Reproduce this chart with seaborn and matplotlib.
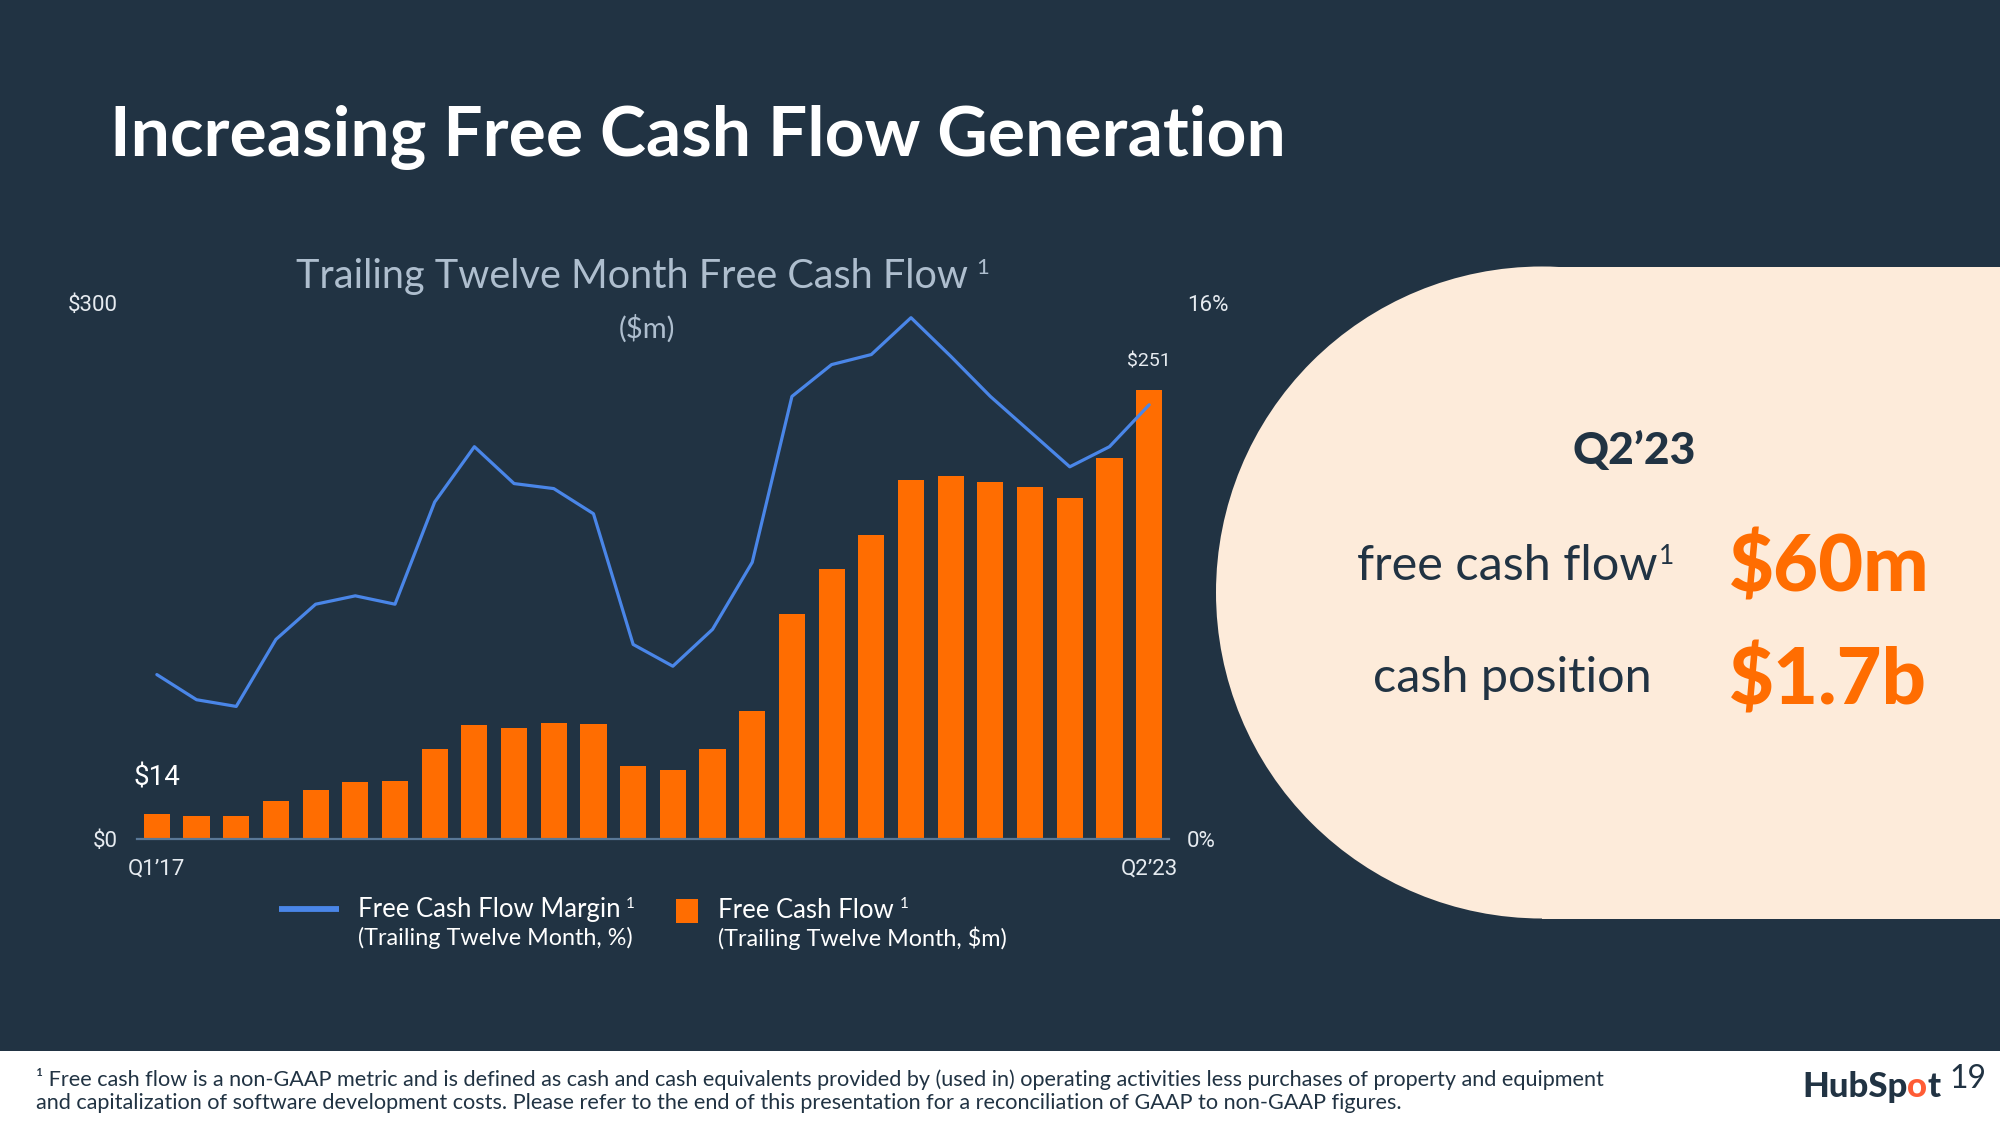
import matplotlib
matplotlib.use("Agg")
import matplotlib.pyplot as plt
import seaborn as sns
import pandas as pd
from matplotlib.patches import Rectangle, Circle

# ---------------- data ----------------
quarters = ["Q1’17", "Q2’17", "Q3’17", "Q4’17",
            "Q1’18", "Q2’18", "Q3’18", "Q4’18",
            "Q1’19", "Q2’19", "Q3’19", "Q4’19",
            "Q1’20", "Q2’20", "Q3’20", "Q4’20",
            "Q1’21", "Q2’21", "Q3’21", "Q4’21",
            "Q1’22", "Q2’22", "Q3’22", "Q4’22",
            "Q1’23", "Q2’23"]
fcf = [14, 12.5, 12.5, 21, 27.5, 31.5, 32.5, 50.5, 63.5, 62, 65, 64.5,
       41, 38.5, 50.5, 71.5, 126, 151, 170, 201, 203, 199.5, 197, 190.5, 213, 251]
margin = [4.9, 4.15, 3.95, 5.95, 7.0, 7.25, 7.0, 10.05, 11.7, 10.6, 10.45, 9.7,
          5.8, 5.15, 6.25, 8.25, 13.2, 14.15, 14.45, 15.55, 14.4, 13.2, 12.15, 11.1, 11.7, 12.95]
y_ticks = [0, 300]
y_tick_labels = ["$0", "$300"]
pct_ticks = [0, 16]
pct_tick_labels = ["0%", "16%"]
bar_callouts = {0: "$14", 25: "$251"}

title = "Increasing Free Cash Flow Generation"
chart_title = "Trailing Twelve Month Free Cash Flow"
chart_unit = "($m)"
legend_line = ("Free Cash Flow Margin", "(Trailing Twelve Month, %)")
legend_bar = ("Free Cash Flow", "(Trailing Twelve Month, $m)")
panel_period = "Q2’23"
panel_rows = [("free cash flow", "$60m", True), ("cash position", "$1.7b", False)]
footnote = ["¹ Free cash flow is a non-GAAP metric and is defined as cash and cash equivalents provided by (used in) operating activities less purchases of property and equipment",
            "and capitalization of software development costs. Please refer to the end of this presentation for a reconciliation of GAAP to non-GAAP figures."]
page_no = "19"

# ---------------- style ----------------
NAVY = "#213343"
ORANGE = "#FF6D01"
BLUE = "#4A86E8"
CREAM = "#FDEBDA"
SLATE = "#5A7896"
SUBTLE = "#AEBECE"
LABEL = "#E6EBF0"

sns.set_theme(style="white")
plt.rcParams["font.family"] = ["Lato", "DejaVu Sans"]

W, H = 2000, 1125
fig = plt.figure(figsize=(W / 100, H / 100), dpi=100, facecolor=NAVY)

bg = fig.add_axes([0, 0, 1, 1], zorder=0)
bg.set_xlim(0, W)
bg.set_ylim(H, 0)
bg.axis("off")
bg.set_facecolor(NAVY)

# right panel (stadium shape)
cx, cy, r = 1542, 592.5, 326
bg.add_patch(Circle((cx, cy), r, color=CREAM, lw=0))
bg.add_patch(Rectangle((cx, cy - r), W - cx + 10, 2 * r, color=CREAM, lw=0))
# footer strip
bg.add_patch(Rectangle((0, 1051), W, H - 1051, color="white", lw=0))

# title
bg.text(110, 156, title, fontsize=50, fontweight="bold", color="white", va="baseline", ha="left")


def sup_after(t, s, size, color, dx=3, weight="normal"):
    return bg.annotate(s, xy=(1, 1), xycoords=t, xytext=(dx, 0), textcoords="offset points",
                       fontsize=size, color=color, va="top", ha="left", fontweight=weight)


ct = bg.text(296, 288, chart_title, fontsize=28.5, fontweight="normal", color=SUBTLE, va="baseline", ha="left")
sup_after(ct, "1", 16, SUBTLE, dx=6)
bg.text(647, 329, chart_unit, fontsize=21, fontweight="normal", color=SUBTLE, va="center", ha="center")

# ---------------- chart ----------------
df = pd.DataFrame({"quarter": quarters, "fcf": fcf, "margin": margin, "pos": range(len(quarters))})

left, right = 137 / W, 1169 / W
bottom, top = 1 - 838.8 / H, 1 - 302.6 / H
ax = fig.add_axes([left, bottom, right - left, top - bottom], zorder=2)
ax.set_facecolor("none")
sns.barplot(data=df, x="quarter", y="fcf", color=ORANGE, saturation=1, width=0.66,
            linewidth=0, edgecolor="none", ax=ax, zorder=2)
ax.set_ylim(0, 300)
ax.set_xlim(-0.5, len(quarters) - 0.5)

ax2 = ax.twinx()
ax2.set_facecolor("none")
sns.lineplot(data=df, x="pos", y="margin", color=BLUE, lw=2.3, ax=ax2)
ax2.set_ylim(0, 16)
ax2.set_xlim(-0.5, len(quarters) - 0.5)

for a in (ax, ax2):
    for s in a.spines.values():
        s.set_visible(False)
    a.set_xlabel("")
    a.set_ylabel("")
    a.grid(False)
ax.spines["bottom"].set_visible(True)
ax.spines["bottom"].set_color(SLATE)
ax.spines["bottom"].set_linewidth(1.6)

ax.set_xticks([0, len(quarters) - 1])
ax.set_xticklabels([quarters[0], quarters[-1]], fontsize=16, color=LABEL, family=["Roboto", "DejaVu Sans"])
ax.set_yticks(y_ticks)
ax.set_yticklabels(y_tick_labels, fontsize=16, color=LABEL, family=["Roboto", "DejaVu Sans"])
ax.tick_params(axis="x", length=0, pad=14)
ax.tick_params(axis="y", length=0, pad=14)
ax2.set_yticks(pct_ticks)
ax2.set_yticklabels(pct_tick_labels, fontsize=16, color=LABEL, family=["Roboto", "DejaVu Sans"])
ax2.tick_params(axis="y", length=0, pad=13)

for i, lab in bar_callouts.items():
    big = (i == 0)
    ax.annotate(lab, xy=(i, fcf[i]), xytext=(0, 26 if big else 21), textcoords="offset points",
                ha="center", va="center", fontsize=20 if big else 14,
                color="white" if big else LABEL, family=["Roboto", "DejaVu Sans"])

# ---------------- legend ----------------
bg.plot([279, 339], [909, 909], color=BLUE, lw=4.2, solid_capstyle="butt")
bg.add_patch(Rectangle((676, 899), 22, 24, color=ORANGE, lw=0))
for x0, (l1, l2) in ((358, legend_line), (718, legend_bar)):
    t = bg.text(x0, 910, l1, fontsize=18.5, color="white", va="center", ha="left")
    sup_after(t, "1", 11, "white", dx=4)
    bg.text(x0, 938, l2, fontsize=16.8, color="white", va="center", ha="left")

# ---------------- panel text ----------------
bg.text(1634, 464, panel_period, fontsize=32, fontweight="black", color=NAVY, va="baseline", ha="center")
for (lab, val, has_sup), (y_lab, y_val) in zip(panel_rows, [(580, 592), (692, 704.5)]):
    x_lab = 1357 if has_sup else 1373
    t = bg.text(x_lab, y_lab, lab, fontsize=35, color=NAVY, va="baseline", ha="left")
    if has_sup:
        sup_after(t, "1", 19, NAVY, dx=1)
    bg.text(1729, y_val, val, fontsize=56, fontweight="black", color=ORANGE, va="baseline", ha="left")

# ---------------- footer ----------------
bg.text(36, 1079, footnote[0], fontsize=15.6, color=NAVY, va="center", ha="left")
bg.text(36, 1103, footnote[1], fontsize=15.6, color=NAVY, va="center", ha="left")

t1 = bg.text(1802, 1097, "HubSp", fontsize=25, fontweight="black", color=NAVY, va="baseline", ha="left")
t2 = bg.annotate("o", xy=(1, 0), xycoords=t1, va="bottom", ha="left", fontsize=25, fontweight="black", color="#FF5C35")
bg.annotate("t", xy=(1, 0), xycoords=t2, va="bottom", ha="left", fontsize=25, fontweight="black", color=NAVY)
bg.text(1949, 1064, page_no, fontsize=23, fontweight="normal", color=NAVY, va="top", ha="left")

fig.savefig("out.png", dpi=100, facecolor=NAVY)
